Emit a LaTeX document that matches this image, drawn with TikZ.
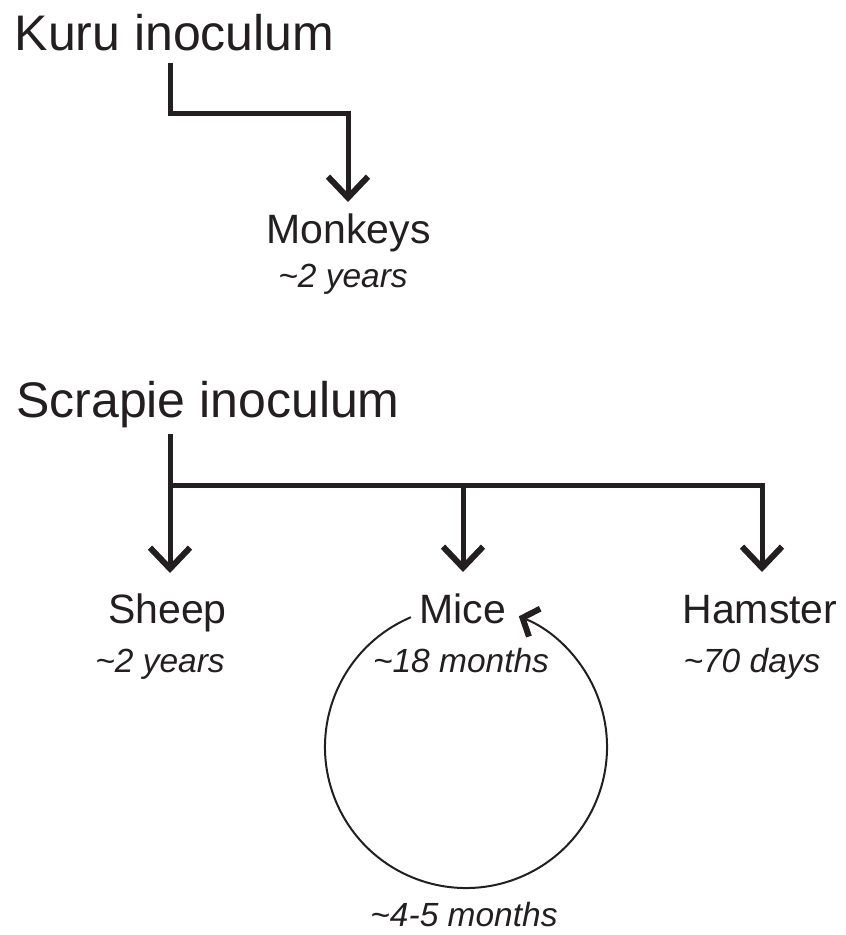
\documentclass[tikz,border=0pt]{standalone}
\usepackage{fontspec}
\setmainfont{Liberation Sans}
\usetikzlibrary{arrows.meta}
\definecolor{ink}{RGB}{35,31,32}
\tikzset{
  title/.style={anchor=base west, inner sep=0pt, font=\fontsize{50}{60}\selectfont, text=ink},
  animal/.style={anchor=base, inner sep=0pt, font=\fontsize{41}{49}\selectfont, text=ink},
  period/.style={anchor=base, inner sep=0pt, font=\fontsize{33.5}{40}\selectfont\itshape, text=ink},
  thickarrow/.style={draw=ink, line width=5pt, -{Straight Barb[length=21pt,width=40pt,line width=6pt]}},
  cycle/.style={draw=ink, line width=2pt, -{Straight Barb[length=13pt,width=30pt,line width=6pt]}}
}
\begin{document}
\begin{tikzpicture}[x=1pt,y=1pt]
\useasboundingbox (0,0) rectangle (846,-935);
% Kuru
\node[title] (kuru) at (14.5,-50) {Kuru inoculum};
\node[animal] (monkeys) at (348.5,-243) {Monkeys};
\node[period] (monkeysT) at (343,-287) {\textasciitilde2 years};
\coordinate (kstart) at (170,-63);
\coordinate (ktip) at (348,-202);
\draw[thickarrow] (kstart) -- ++(0,-50) -| (ktip);
% Scrapie
\node[title] (scrapie) at (16,-417) {Scrapie inoculum};
\node[animal] (sheep) at (167.5,-623) {Sheep};
\node[period] (sheepT) at (160,-672) {\textasciitilde2 years};
\node[animal] (mice) at (463,-623) {Mice};
\node[period] (miceT) at (461,-672) {\textasciitilde18 months};
\node[animal] (hamster) at (760,-623) {Hamster};
\node[period] (hamsterT) at (752,-672) {\textasciitilde70 days};
\node[period] (loopT) at (464,-926) {\textasciitilde4-5 months};
\coordinate (sstart) at (170,-434);
\coordinate (sjoin) at (170,-485);
\coordinate (mjoin) at (463,-485);
\coordinate (sheeptip) at (170,-573);
\coordinate (micetip) at (463,-572);
\coordinate (hamtip) at (762,-572);
\draw[thickarrow] (sstart) -- (sheeptip);
\draw[thickarrow] (sjoin) -| (hamtip);
\draw[thickarrow] (mjoin) -- (micetip);
% passage loop
\coordinate (loopc) at (466,-747);
\draw[cycle] ([shift={(113:141)}]loopc) arc[start angle=113, end angle=428, radius=141];
\end{tikzpicture}
\end{document}
